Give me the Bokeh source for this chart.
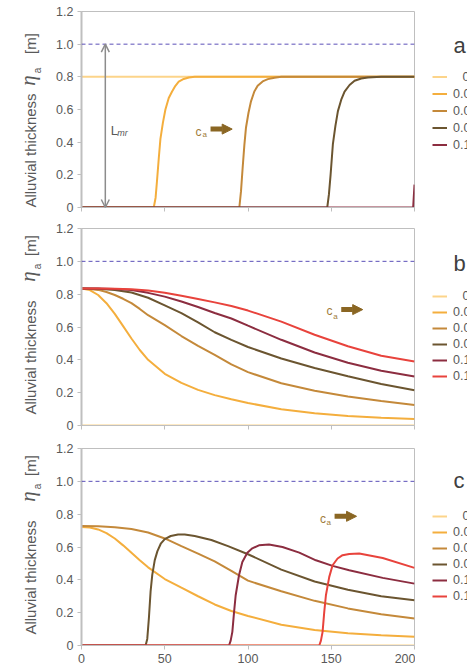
import math
from bokeh.plotting import figure
from bokeh.layouts import column, row
from bokeh.models import (Range1d, FixedTicker, CustomJSTickFormatter, Span, Label, Arrow,
                          NormalHead, OpenHead, Legend, LegendItem)
from bokeh.embed import file_html
from bokeh.resources import INLINE

# ---------------------------------------------------------------- data
series_labels = ["0", "0.03", "0.06", "0.09", "0.12", "0.15"]
series_colors = ["#FCD48A", "#F4AE3D", "#C4893A", "#6B5530", "#8C2D40", "#E8433C"]

x_ticks = [0, 50, 100, 150, 200]
x_tick_labels = ["0", "50", "100", "150", "200"]
y_ticks = [0, 0.2, 0.4, 0.6, 0.8, 1.0, 1.2]
y_tick_labels = ["0", "0.2", "0.4", "0.6", "0.8", "1.0", "1.2"]

max_level = 1.0   # dashed reference level

# panel a
a0_x = [0, 200]
a0_y = [0.8, 0.8]
a1_x = [0, 43.4, 44.5, 45.4, 46.4, 47.4, 48.9, 50.4, 52.4, 54.4, 56.4, 58.4, 61.4, 64.5, 68, 75, 200]
a1_y = [0, 0, 0.06, 0.17, 0.30, 0.42, 0.52, 0.60, 0.67, 0.71, 0.745, 0.77, 0.787, 0.796, 0.8, 0.8, 0.8]
a2_x = [0, 94.8, 95.8, 96.8, 97.8, 98.8, 100.3, 101.8, 103.8, 105.8, 108.8, 111.9, 115.9, 120, 200]
a2_y = [0, 0, 0.1, 0.245, 0.38, 0.49, 0.58, 0.65, 0.71, 0.745, 0.772, 0.786, 0.795, 0.8, 0.8]
a3_x = [0, 147.6, 148.6, 149.6, 151, 152.5, 154, 156, 158, 161, 164, 168, 172, 180, 200]
a3_y = [0, 0, 0.08, 0.2, 0.39, 0.50, 0.59, 0.66, 0.71, 0.75, 0.776, 0.79, 0.796, 0.8, 0.8]
a4_x = [0, 199.2, 200]
a4_y = [0, 0, 0.14]

# panel b
b0_x = [0, 200]
b0_y = [0, 0]
b1_x = [0, 5, 10, 15, 20, 25, 30, 35, 40, 50, 60, 70, 80, 90, 100, 120, 140, 160, 180, 200]
b1_y = [0.834, 0.825, 0.795, 0.745, 0.68, 0.605, 0.53, 0.46, 0.40, 0.315, 0.26, 0.217, 0.185, 0.16,
        0.137, 0.099, 0.074, 0.058, 0.047, 0.039]
b2_x = [0, 5, 10, 15, 20, 25, 30, 35, 40, 50, 60, 70, 80, 90, 100, 120, 140, 160, 180, 200]
b2_y = [0.834, 0.832, 0.826, 0.813, 0.795, 0.772, 0.745, 0.71, 0.672, 0.611, 0.545, 0.485, 0.43,
        0.372, 0.325, 0.257, 0.212, 0.176, 0.149, 0.125]
b3_x = [0, 10, 20, 30, 40, 50, 60, 70, 80, 90, 100, 120, 140, 160, 180, 200]
b3_y = [0.834, 0.833, 0.826, 0.81, 0.778, 0.732, 0.685, 0.628, 0.568, 0.522, 0.478, 0.408, 0.35,
        0.30, 0.253, 0.215]
b4_x = [0, 10, 20, 30, 40, 50, 60, 70, 80, 90, 100, 120, 140, 160, 180, 200]
b4_y = [0.834, 0.834, 0.832, 0.825, 0.808, 0.785, 0.755, 0.722, 0.685, 0.652, 0.608, 0.522, 0.445,
        0.382, 0.333, 0.298]
b5_x = [0, 10, 20, 30, 40, 50, 60, 70, 80, 90, 100, 120, 140, 160, 180, 200]
b5_y = [0.834, 0.834, 0.833, 0.83, 0.822, 0.808, 0.79, 0.77, 0.75, 0.728, 0.70, 0.633, 0.553,
        0.483, 0.425, 0.39]

# panel c
c0_x = [0, 200]
c0_y = [0, 0]
c1_x = [0, 5, 10, 15, 20, 25, 30, 35, 40, 50, 60, 70, 80, 90, 100, 120, 140, 160, 180, 200]
c1_y = [0.722, 0.719, 0.707, 0.685, 0.652, 0.61, 0.565, 0.52, 0.476, 0.405, 0.352, 0.30, 0.25, 0.21,
        0.18, 0.126, 0.094, 0.074, 0.063, 0.053]
c2_x = [0, 10, 20, 30, 40, 50, 60, 70, 80, 90, 100, 120, 140, 160, 180, 200]
c2_y = [0.728, 0.727, 0.721, 0.71, 0.688, 0.652, 0.605, 0.56, 0.512, 0.455, 0.395, 0.33, 0.272,
        0.226, 0.19, 0.165]
c3_x = [0, 38.5, 39.5, 40.5, 41.5, 42.5, 44, 45.6, 47.6, 50, 53.6, 58, 62, 68, 78, 88, 100, 120,
        140, 160, 180, 200]
c3_y = [0, 0, 0.04, 0.17, 0.33, 0.43, 0.52, 0.575, 0.62, 0.648, 0.667, 0.676, 0.676, 0.667, 0.643,
        0.605, 0.556, 0.462, 0.39, 0.34, 0.30, 0.275]
c4_x = [0, 88.6, 89.6, 90.6, 91.6, 92.6, 94.6, 96.6, 99.6, 102.6, 106.6, 112.6, 120.7, 130.8, 140.8,
        150.8, 160.8, 180.9, 200]
c4_y = [0, 0, 0.03, 0.083, 0.2, 0.306, 0.428, 0.509, 0.565, 0.592, 0.61, 0.615, 0.60, 0.566, 0.519,
        0.485, 0.458, 0.412, 0.377]
c5_x = [0, 142.8, 143.8, 144.8, 145.8, 146.8, 148.8, 150.8, 153.8, 156.8, 160.8, 166.8, 180.9, 200]
c5_y = [0, 0, 0.03, 0.083, 0.205, 0.306, 0.418, 0.489, 0.53, 0.55, 0.558, 0.56, 0.533, 0.473]

panel_a = [(a0_x, a0_y), (a1_x, a1_y), (a2_x, a2_y), (a3_x, a3_y), (a4_x, a4_y)]
panel_b = [(b0_x, b0_y), (b1_x, b1_y), (b2_x, b2_y), (b3_x, b3_y), (b4_x, b4_y), (b5_x, b5_y)]
panel_c = [(c0_x, c0_y), (c1_x, c1_y), (c2_x, c2_y), (c3_x, c3_y), (c4_x, c4_y), (c5_x, c5_y)]

# ---------------------------------------------------------------- styling
FONT = "Liberation Sans"
TEXT_GREY = "#595959"
AXIS_GREY = "#BFBFBF"
CA_TEXT = "#A07C3A"
CA_ARROW = "#8A6623"
DASH_COLOR = "#5B50B8"
TITLE_W, MAIN_W, KEY_W = 44, 371, 52     # 467 px in total


def tick_formatter(values, names):
    return CustomJSTickFormatter(
        args=dict(tick_values=values, tick_names=names),
        code="const i = tick_values.findIndex(t => Math.abs(t - tick) < 1e-9); "
             "return i >= 0 ? tick_names[i] : '';")


def side_figure(width, height, top, bottom):
    """Axis-less strip; its frame lines up with the neighbouring plot frame and its
    y data units are pixels measured from the top of the row."""
    f = figure(width=width, height=height, output_backend="svg", toolbar_location=None,
               x_range=Range1d(0, width), y_range=Range1d(height - bottom, top),
               x_axis_type=None, y_axis_type=None,
               min_border_left=0, min_border_right=0,
               min_border_top=top, min_border_bottom=bottom)
    f.outline_line_color = None
    f.background_fill_color = "white"
    f.border_fill_color = "white"
    return f


def y_title_strip(height, top, bottom, title_y, eta_y, sub_y, unit_y):
    f = side_figure(TITLE_W, height, top, bottom)
    f.add_layout(Label(x=29.5, y=title_y, text="Alluvial thickness", angle=math.pi / 2,
                       text_align="center", text_baseline="middle", text_font=FONT,
                       text_font_size="15px", text_color=TEXT_GREY))
    f.add_layout(Label(x=27.5, y=eta_y, text="\u03b7", angle=math.pi / 2,
                       text_align="center", text_baseline="middle", text_font="Liberation Serif",
                       text_font_style="italic", text_font_size="21px", text_color=TEXT_GREY))
    f.add_layout(Label(x=37.0, y=sub_y, text="a", angle=math.pi / 2,
                       text_align="center", text_baseline="middle", text_font=FONT,
                       text_font_size="10px", text_color=TEXT_GREY))
    f.add_layout(Label(x=30.0, y=unit_y, text="[m]", angle=math.pi / 2,
                       text_align="center", text_baseline="middle", text_font=FONT,
                       text_font_size="15px", text_color=TEXT_GREY))
    return f


def key_strip(height, top, bottom, n, row_h, legend_vy, letter, letter_y):
    f = side_figure(KEY_W, height, top, bottom)
    items = []
    for i in range(n):
        # sample-only renderer: one undefined point, so nothing is drawn in the strip itself
        r = f.line(x=[float("nan")], y=[float("nan")], line_color=series_colors[i], line_width=2)
        label = series_labels[i]
        if i == 0:
            label = "\u2007\u2009" + label
        items.append(LegendItem(label=label, renderers=[r]))
    f.add_layout(Legend(items=items, location=(17, legend_vy), orientation="vertical",
                        glyph_width=15, glyph_height=row_h, label_height=row_h,
                        spacing=0, padding=0, margin=0, label_standoff=6,
                        border_line_color=None, background_fill_alpha=0,
                        label_text_font=FONT, label_text_font_size="12.5px",
                        label_text_color=TEXT_GREY))
    f.add_layout(Label(x=38, y=letter_y, text=letter, text_font=FONT, text_font_size="22px",
                       text_color="#404040", text_align="left", text_baseline="alphabetic"))
    return f


def main_panel(series, height, top, bottom, ca, show_x_labels):
    p = figure(width=MAIN_W, height=height, output_backend="svg", toolbar_location=None,
               x_range=Range1d(0, 200), y_range=Range1d(0, 1.2),
               min_border_left=37, min_border_right=1,
               min_border_top=top, min_border_bottom=bottom)
    p.xgrid.visible = False
    p.ygrid.visible = False
    p.outline_line_color = AXIS_GREY
    p.outline_line_width = 1
    p.background_fill_color = "white"
    p.border_fill_color = "white"

    for ax in (p.xaxis[0], p.yaxis[0]):
        ax.axis_line_color = AXIS_GREY
        ax.major_tick_line_color = AXIS_GREY
        ax.major_tick_in = 0
        ax.major_tick_out = 4
        ax.minor_tick_in = 0
        ax.minor_tick_out = 0
        ax.major_label_text_font = FONT
        ax.major_label_text_font_size = "12.5px"
        ax.major_label_text_color = TEXT_GREY
        ax.major_label_standoff = 4
    p.yaxis[0].axis_line_width = 2
    p.yaxis[0].ticker = FixedTicker(ticks=y_ticks)
    p.yaxis[0].formatter = tick_formatter(y_ticks, y_tick_labels)
    p.xaxis[0].ticker = FixedTicker(ticks=x_ticks)
    p.xaxis[0].formatter = tick_formatter(x_ticks, x_tick_labels)
    if not show_x_labels:
        # keep the tick marks, leave the numbers to the bottom panel
        p.xaxis[0].major_label_text_color = None
        p.xaxis[0].major_label_text_font_size = "1px"
        p.xaxis[0].major_label_standoff = 0

    p.add_layout(Span(location=max_level, dimension="width", line_color=DASH_COLOR,
                      line_width=1, line_dash="4 3"))

    for i, (xs, ys) in enumerate(series):
        p.line(xs, ys, line_color=series_colors[i], line_width=2)

    # celerity marker: c_a with an arrow pointing downstream
    cx, cy, sx, sy, ax0, ax1, ay = ca
    p.add_layout(Label(x=cx, y=cy, text="c", text_font=FONT, text_font_size="12px",
                       text_color=CA_TEXT, text_align="left", text_baseline="alphabetic"))
    p.add_layout(Label(x=sx, y=sy, text="a", text_font=FONT, text_font_size="8px",
                       text_color=CA_TEXT, text_align="left", text_baseline="alphabetic"))
    p.add_layout(Arrow(x_start=ax0, y_start=ay, x_end=ax1, y_end=ay, start=None,
                       end=NormalHead(size=10, fill_color=CA_ARROW, line_color=CA_ARROW,
                                      line_width=1),
                       line_color=CA_ARROW, line_width=5))
    return p


# panel a: page rows 0-217, frame 11-207
pa = main_panel(panel_a, 217, 11, 10, (68.5, 0.463, 72.7, 0.445, 77.5, 90.5, 0.48), False)
LMR_GREY = "#8C8C8C"
pa.add_layout(Arrow(x_start=14.3, y_start=0.0, x_end=14.3, y_end=max_level,
                    start=OpenHead(size=8, line_color=LMR_GREY, line_width=1.5),
                    end=OpenHead(size=8, line_color=LMR_GREY, line_width=1.5),
                    line_color=LMR_GREY, line_width=1.5))
pa.add_layout(Label(x=17.6, y=0.469, text="L", text_font=FONT, text_font_size="13px",
                    text_color=TEXT_GREY, text_align="left", text_baseline="alphabetic"))
pa.add_layout(Label(x=21.4, y=0.457, text="mr", text_font=FONT, text_font_size="9px",
                    text_font_style="italic", text_color=TEXT_GREY, text_align="left",
                    text_baseline="alphabetic"))
row_a = row(y_title_strip(217, 11, 10, 150, 80, 70, 43), pa,
            key_strip(217, 11, 10, 5, 17, 54, "a", 45), spacing=0)

# panel b: page rows 217-435, frame 228-425
pb = main_panel(panel_b, 218, 11, 10, (147.2, 0.696, 151.2, 0.667, 156.0, 168.9, 0.706), False)
row_b = row(y_title_strip(218, 11, 10, 140, 59, 49, 28), pb,
            key_strip(218, 11, 10, 6, 16, 41, "b", 46), spacing=0)

# panel c: page rows 435-668, frame 448-645
pc = main_panel(panel_c, 233, 13, 23, (143.2, 0.773, 147.2, 0.749, 152.0, 165.2, 0.787), True)
row_c = row(y_title_strip(233, 13, 23, 142, 61, 51, 30), pc,
            key_strip(233, 13, 23, 6, 16, 41, "c", 45), spacing=0)

layout = column(row_a, row_b, row_c, spacing=0)

with open("out.html", "w") as f:
    f.write(file_html(layout, INLINE))
